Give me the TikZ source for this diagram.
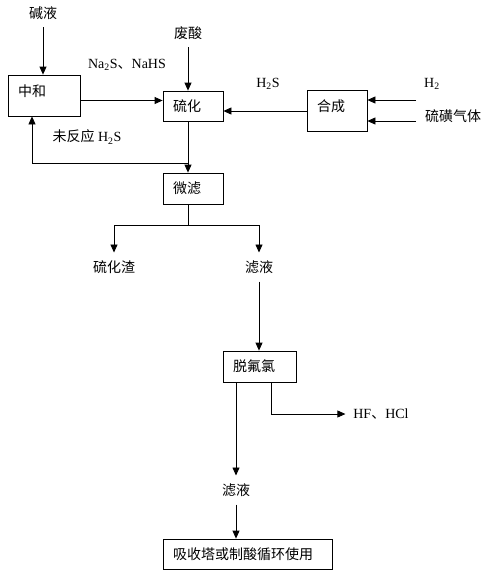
\documentclass[tikz,border=0pt]{standalone}
\usepackage{fontspec}
\setmainfont{Liberation Serif}
\newfontfamily\cjk{Noto Sans CJK SC}
\usetikzlibrary{shapes,arrows,arrows.meta}
\tikzstyle{block} = [draw, rectangle, line width=0.8pt, inner xsep=10pt,
inner ysep=0pt, align=left, font=\cjk]
\tikzstyle{note} = [inner sep=1pt, outer sep=7pt]
\tikzstyle{arrow} = [line width=0.8pt,->,>={Triangle[length=8pt,width=7pt]}]
\tikzstyle{link} = [line width=0.8pt,-]

\begin{document}
\fontsize{14pt}{17pt}\selectfont
\begin{tikzpicture}[auto]
\useasboundingbox (0,0) rectangle (480pt,-576pt);

% Place nodes
\node [block, text width=52pt, minimum height=41pt, text depth=10pt](zhonghe) at (44pt,-95.5pt){中和};
\node [block, text width=40pt, minimum height=30pt](liuhua) at (193pt,-106pt){硫化};
\node [block, text width=40pt, minimum height=41pt, text depth=10pt](hecheng) at (337pt,-111pt){合成};
\node [block, text width=40pt, minimum height=31pt](weilv) at (193pt,-188.5pt){微滤};
\node [block, text width=53pt, minimum height=31pt](tuofulv) at (259.5pt,-366.5pt){脱氟氯};
\node [block, text width=149pt, minimum height=30pt](reuse) at (247.5pt,-554pt){吸收塔或制酸循环使用};

% Place labels
\node [note](jianye) at (43pt,-13pt){\cjk 碱液};
\node [note](feisuan) at (188pt,-33pt){\cjk 废酸};
\node [note](sulfide) at (127pt,-65pt){Na\textsubscript{2}S{\cjk 、}NaHS};
\node [note](unreact) at (87pt,-137pt){{\cjk 未反应} H\textsubscript{2}S};
\node [note](htwos) at (268pt,-84pt){H\textsubscript{2}S};
\node [note](hydro) at (432pt,-84pt){H\textsubscript{2}};
\node [note](sulfur) at (453pt,-116pt){\cjk 硫磺气体};
\node [note](zhazi) at (114pt,-267pt){\cjk 硫化渣};
\node [note](lvye) at (259pt,-267pt){\cjk 滤液};
\node [note](hfhcl) at (381pt,-414pt){HF{\cjk 、}HCl};
\node [note](filtrate) at (236pt,-490pt){\cjk 滤液};

\coordinate (hin) at (416pt,-100pt);
\coordinate (sin) at (416pt,-121pt);
\coordinate (fork) at (188pt,-163pt);
\coordinate (split) at (188pt,-225pt);

% Place lines
\draw [arrow] (jianye) -- (jianye |- zhonghe.north);
\draw [arrow] (feisuan) -- (feisuan |- liuhua.north);
\draw [arrow] ([yshift=-5pt]zhonghe.east) -- ([yshift=-5pt]zhonghe.east -| liuhua.west);
\draw [arrow] (hecheng.west) -- (hecheng.west -| liuhua.east);
\draw [arrow] (hin) -- (hin -| hecheng.east);
\draw [arrow] (sin) -- (sin -| hecheng.east);
\draw [link] (fork |- liuhua.south) -- (fork);
\draw [arrow] (fork) -- (fork |- weilv.north);
\draw [arrow] (fork) -| ([xshift=-12pt]zhonghe.south);
\draw [link] (split |- weilv.south) -- (split);
\draw [arrow] (split) -| (zhazi);
\draw [arrow] (split) -| (lvye);
\draw [arrow] (lvye) -- (lvye |- tuofulv.north);
\draw [arrow] (tuofulv.south -| filtrate) -- (filtrate);
\draw [arrow] (filtrate) -- (filtrate |- reuse.north);
\draw [arrow] ([xshift=11.5pt]tuofulv.south) |- (hfhcl);

\end{tikzpicture}
\end{document}
